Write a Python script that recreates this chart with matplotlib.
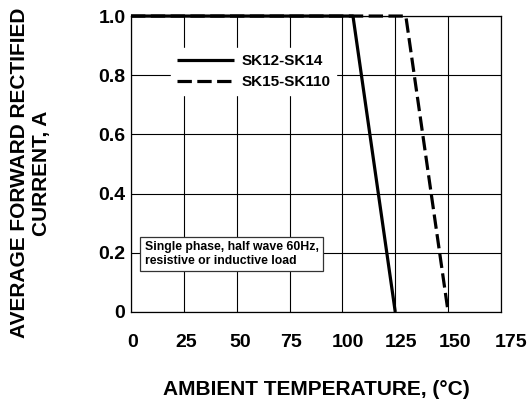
import matplotlib
matplotlib.use("Agg")
import matplotlib.pyplot as plt
from matplotlib.transforms import ScaledTranslation

plt.rcParams['font.family'] = ['Liberation Sans', 'DejaVu Sans']
plt.rcParams['font.weight'] = 'bold'

# derating curves
temp_a = [0, 105, 125]
curr_a = [1.0, 1.0, 0.0]
temp_b = [0, 130, 150]
curr_b = [1.0, 1.0, 0.0]
labels = ['SK12-SK14', 'SK15-SK110']

xticks = [0, 25, 50, 75, 100, 125, 150, 175]
yticks = [0, 0.2, 0.4, 0.6, 0.8, 1.0]
yticklabels = ['0', '0.2', '0.4', '0.6', '0.8', '1.0']
# small horizontal nudges of the x tick labels (pixels), as in the original
xlabel_nudge = [2, 2, 3, 1.5, 6, 6, 7, 10]

fig = plt.figure(figsize=(5.29, 4.01), dpi=100)
ax = fig.add_axes([0.2476, 0.222, 0.6994, 0.738])

ax.plot(temp_a, curr_a, color='black', lw=2.3, label=labels[0],
        solid_capstyle='butt', clip_on=False, zorder=3)
ax.plot(temp_b, curr_b, color='black', lw=2.3, ls=(0, (4.5, 1.7)),
        label=labels[1], dash_capstyle='butt', clip_on=False, zorder=3)

ax.set_xlim(0, 175)
ax.set_ylim(0, 1.0)
ax.set_xticks(xticks)
ax.set_yticks(yticks)
ax.set_yticklabels(yticklabels)
ax.tick_params(length=0, labelsize=14)
ax.tick_params(axis='x', pad=16)
ax.tick_params(axis='y', pad=4)
for lab in ax.get_xticklabels() + ax.get_yticklabels():
    lab.set_fontweight('bold')
for lab, dx in zip(ax.get_xticklabels(), xlabel_nudge):
    lab.set_transform(lab.get_transform() + ScaledTranslation(dx / 100, 0, fig.dpi_scale_trans))
ax.grid(True, color='black', lw=0.8)
ax.set_axisbelow(True)
for s in ax.spines.values():
    s.set_linewidth(0.9)

leg = ax.legend(loc='upper left', bbox_to_anchor=(0.108, 0.892), frameon=True,
                fontsize=11, handlelength=3.7, handletextpad=0.5, borderpad=0.4,
                labelspacing=0.45, borderaxespad=0, fancybox=False)
leg.get_frame().set_edgecolor('white')
leg.get_frame().set_alpha(1)
leg.set_zorder(4)
for t in leg.get_texts():
    t.set_fontweight('bold')

ax.text(6.5, 0.195, 'Single phase, half wave 60Hz,\nresistive or inductive load',
        fontsize=8.8, fontweight='bold', va='center', ha='left', zorder=4,
        bbox=dict(boxstyle='square,pad=0.35', fc='white', ec='#333333', lw=0.9))

ax.set_xlabel('AMBIENT TEMPERATURE, (°C)', fontsize=15, fontweight='bold')
ax.xaxis.set_label_coords(0.5, -0.23)
ax.set_ylabel('AVERAGE FORWARD RECTIFIED\nCURRENT, A', fontsize=15, fontweight='bold')
ax.yaxis.set_label_coords(-0.215, 0.47)

fig.savefig('out.png', dpi=100)
